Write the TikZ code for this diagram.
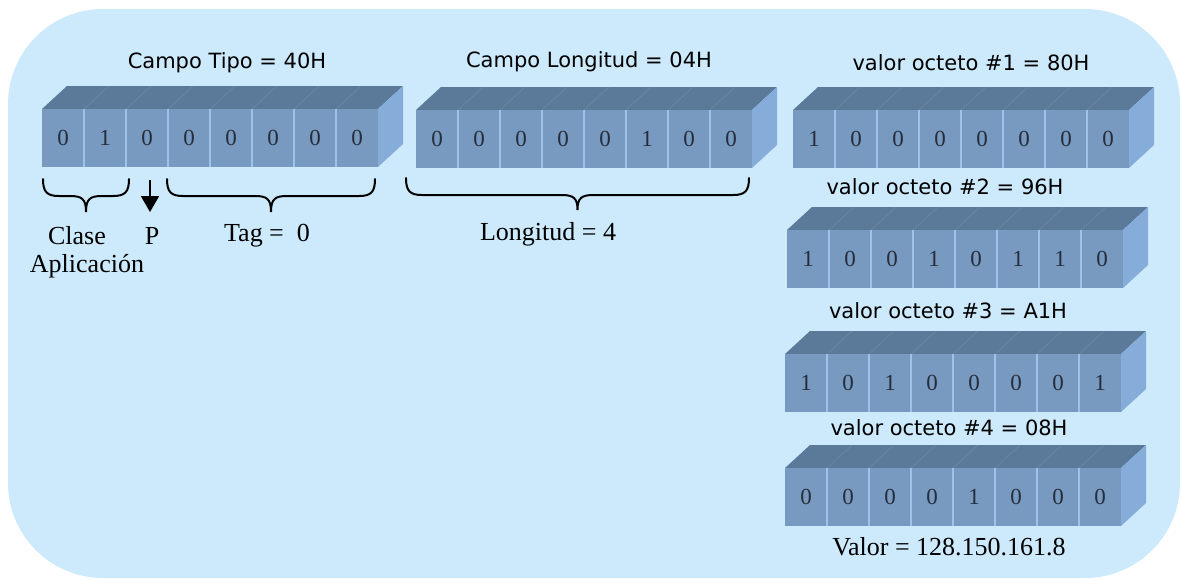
\documentclass[tikz,border=0pt]{standalone}
\usepackage{fontspec}
\setmainfont{Liberation Serif}
\newfontfamily\sansf{DejaVu Sans}
\usetikzlibrary{arrows.meta}
\definecolor{bgc}{HTML}{CDEAFC}
\definecolor{frontc}{HTML}{7899C0}
\definecolor{topc}{HTML}{5B7A9A}
\definecolor{sidec}{HTML}{86ACD9}
\definecolor{divc}{HTML}{9DC3EC}
\definecolor{digc}{HTML}{262D3A}
\tikzset{
  bit/.style={inner sep=0pt, text=digc, font=\fontsize{23}{23}\selectfont},
  sanslbl/.style={inner sep=0pt, font=\sansf\fontsize{21}{25}\selectfont},
  seriflbl/.style={inner sep=0pt, font=\fontsize{26}{30}\selectfont, align=center},
  brc/.style={line width=2pt, line cap=round, black},
}
\newcommand\octbox[4]{%
  \begin{scope}[shift={(#2,#3)}]
    \fill[topc] (0,0) -- (25,-23) -- (361,-23) -- (336,0) -- cycle;
    \fill[sidec] (336,0) -- (361,-23) -- (361,35) -- (336,58) -- cycle;
    \fill[frontc] (0,0) rectangle (336,58);
    \foreach \k in {1,...,7} {
      \draw[divc, line width=2pt] (42*\k,0) -- (42*\k,58);
      \draw[topc!88!white, line width=0.5pt] (42*\k,0) -- (42*\k+25,-23);
    }
    \foreach \b [count=\i] in {#4}
      \node[bit] (#1-\i) at (42*\i-21,29) {\b};
  \end{scope}}
\newcommand\curly[4]{%
  \pgfmathsetmacro\xm{(#1+#2)/2}
  \draw[brc] (#1,#3) .. controls (#1,#3+13) and (#1+4,#3+17) .. (#1+16,#3+17)
    -- (\xm-16,#3+17) .. controls (\xm-4,#3+17) and (\xm,#3+20) .. (\xm,#3+#4)
    .. controls (\xm,#3+20) and (\xm+4,#3+17) .. (\xm+16,#3+17)
    -- (#2-16,#3+17) .. controls (#2-4,#3+17) and (#2,#3+13) .. (#2,#3);}
\begin{document}
\begin{tikzpicture}[x=1pt,y=-1pt]
\useasboundingbox (0,0) rectangle (1181,579);
\fill[bgc, rounded corners=95pt] (8,9) rectangle (1180,578);

% blocks
\octbox{tipo}{42}{109}{0,1,0,0,0,0,0,0}
\octbox{lon}{416}{110}{0,0,0,0,0,1,0,0}
\octbox{va}{793}{110}{1,0,0,0,0,0,0,0}
\octbox{vb}{787}{230}{1,0,0,1,0,1,1,0}
\octbox{vc}{785}{354}{1,0,1,0,0,0,0,1}
\octbox{vd}{785}{468}{0,0,0,0,1,0,0,0}

% headings
\node[sanslbl] (h1) at (227,63) {Campo Tipo = 40H};
\node[sanslbl] (h2) at (589,62) {Campo Longitud = 04H};
\node[sanslbl] (h3) at (971,63) {valor octeto \#1 = 80H};
\node[sanslbl] (h4) at (945,187) {valor octeto \#2 = 96H};
\node[sanslbl] (h5) at (948,311) {valor octeto \#3 = A1H};
\node[sanslbl] (h6) at (949,428) {valor octeto \#4 = 08H};

% braces
\curly{43}{129}{179}{33}
\curly{167}{375}{179}{33}
\curly{406}{749}{178}{32}

% arrow P
\coordinate (pa) at (150,180);
\coordinate (pb) at (150,212);
\draw[line width=2pt, -{Triangle[width=18pt,length=16pt]}] (pa) -- (pb);

% serif labels
\node[seriflbl] (clase) at (77,236) {Clase};
\node[seriflbl] (apl) at (87,266) {Aplicación};
\node[seriflbl] (p) at (152,236) {P};
\node[seriflbl] (tag) at (267,236) {Tag =\ \ 0};
\node[seriflbl] (lng) at (548,234) {Longitud = 4};
\node[seriflbl] (val) at (949,547) {Valor = 128.150.161.8};
\end{tikzpicture}
\end{document}
